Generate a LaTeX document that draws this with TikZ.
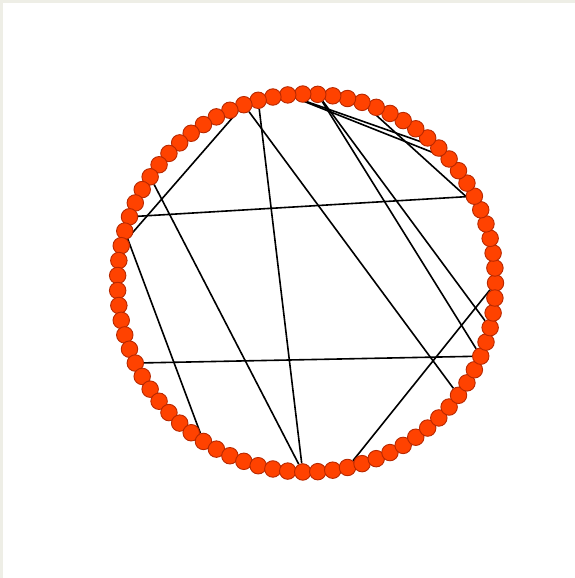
\documentclass[tikz,border=0pt]{standalone}
\usepackage{xcolor}
\usetikzlibrary{backgrounds}
\definecolor{ndorange}{HTML}{FF4200}
\definecolor{ndrim}{HTML}{B82800}
\definecolor{bgframe}{HTML}{EEEEE6}

\begin{document}
\begin{tikzpicture}[x=1pt,y=1pt,
  vertex/.style={circle,draw=ndrim,fill=ndorange,line width=0.9pt,
    minimum size=16.5pt,inner sep=0pt},
  link/.style={black,line width=1.6pt}]
  \useasboundingbox (0,0) rectangle (575,578);
  \foreach \k in {0,...,78}
    \node[vertex] (n\k) at ({306.5+189*cos(4.556962*\k)},{295+189*sin(4.556962*\k)}) {};
  \begin{scope}[on background layer]
    \fill[bgframe] (0,0) rectangle (575,578);
    \fill[white] (3,0) rectangle (575,575);
    \foreach \a/\b in {24/37,24/71,35/6,32/59,23/59,36/52,21/10,21/9,
                       19/76,19/74,16/5,45/74,62/0}
      \draw[link] (n\a) -- (n\b);
  \end{scope}
\end{tikzpicture}
\end{document}
